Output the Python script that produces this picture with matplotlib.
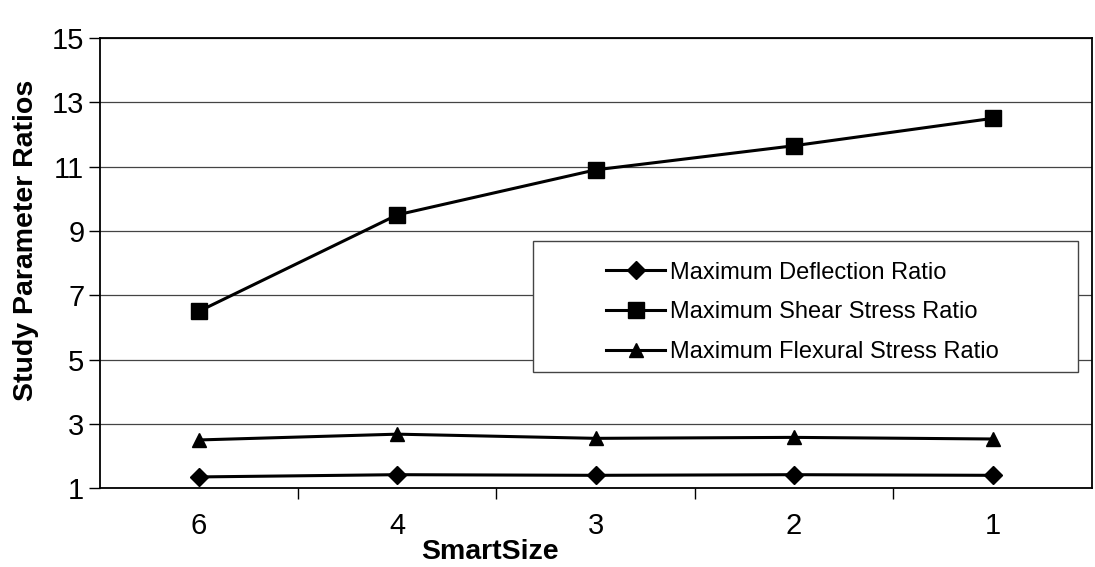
import matplotlib
matplotlib.use("Agg")
import matplotlib.pyplot as plt
from matplotlib.patches import Rectangle

plt.rcParams['font.family'] = ['Liberation Sans', 'DejaVu Sans']

categories = ["6", "4", "3", "2", "1"]
deflection = [1.35, 1.42, 1.40, 1.42, 1.40]
shear = [6.5, 9.5, 10.9, 11.65, 12.5]
flexural = [2.5, 2.68, 2.55, 2.58, 2.53]
series_labels = ["Maximum Deflection Ratio", "Maximum Shear Stress Ratio",
                 "Maximum Flexural Stress Ratio"]
y_ticks = [1, 3, 5, 7, 9, 11, 13, 15]

fig = plt.figure(figsize=(10.95, 5.67), dpi=100)
ax = fig.add_axes([0.091, 0.139, 0.906, 0.794])

x = list(range(len(categories)))
ax.plot(x, deflection, color='black', lw=2.2, marker='D', markersize=9,
        label=series_labels[0], zorder=4)
ax.plot(x, shear, color='black', lw=2.2, marker='s', markersize=11,
        label=series_labels[1], zorder=4)
ax.plot(x, flexural, color='black', lw=2.2, marker='^', markersize=10,
        label=series_labels[2], zorder=4)

ax.set_xlim(-0.5, len(categories) - 0.5)
ax.set_ylim(1, 15)
ax.set_yticks(y_ticks)
ax.set_yticklabels([str(v) for v in y_ticks], fontsize=21)
ax.set_xticks(x)
ax.set_xticklabels(categories, fontsize=21)
ax.set_xticks([i + 0.5 for i in range(len(categories) - 1)], minor=True)
ax.tick_params(axis='x', which='major', length=0, pad=17)
ax.tick_params(axis='x', which='minor', length=8, width=1.0, direction='out')
ax.tick_params(axis='y', which='major', length=8, width=1.0, direction='out', pad=3)

ax.yaxis.grid(True, color='#444444', lw=0.9)
ax.set_axisbelow(True)
for s in ax.spines.values():
    s.set_color('black')
    s.set_linewidth(1.3)

ax.set_ylabel("Study Parameter Ratios", fontsize=20.5, fontweight='bold')
ax.yaxis.set_label_coords(-0.061, 0.55)
ax.set_xlabel("SmartSize", fontsize=20.5, fontweight='bold')
ax.xaxis.set_label_coords(0.393, -0.112)

# legend frame
rect = Rectangle((0.437, 0.258), 0.549, 0.29, transform=ax.transAxes,
                 facecolor='white', edgecolor='#444444', lw=1.0, zorder=3)
ax.add_patch(rect)
leg = ax.legend(loc='upper left', bbox_to_anchor=(0.494, 0.54), frameon=False,
                fontsize=17, handlelength=2.5, handletextpad=0.2,
                labelspacing=0.75, borderpad=0.2)
leg.set_zorder(5)

fig.savefig("out.png", dpi=100)
